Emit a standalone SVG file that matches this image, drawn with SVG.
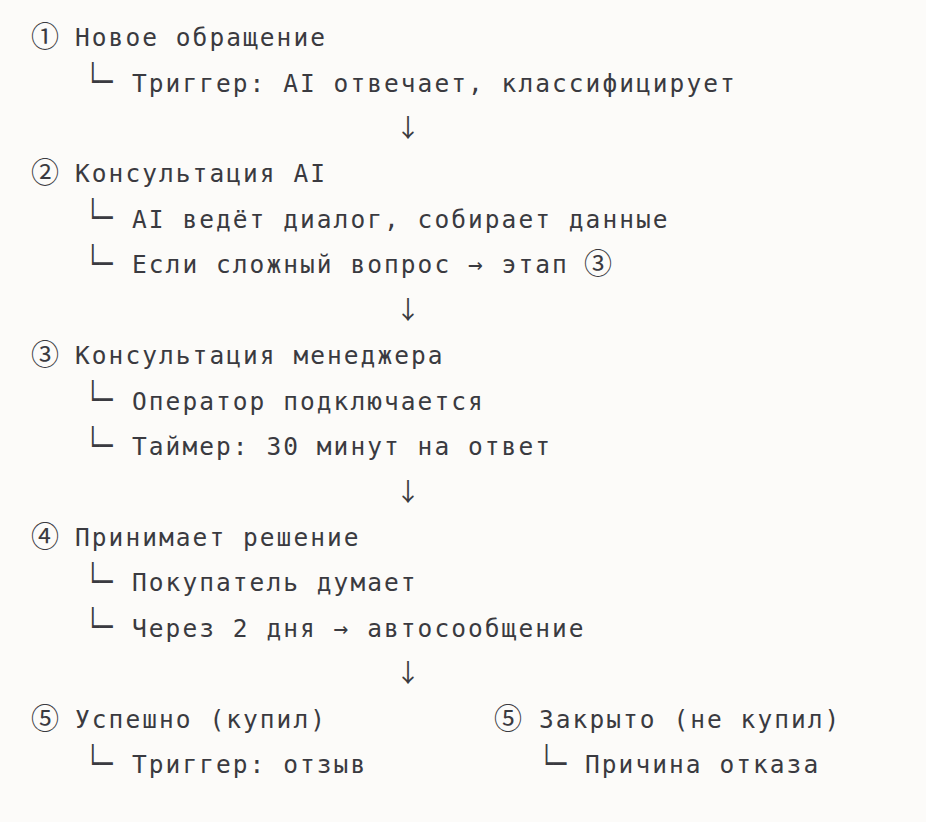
<svg xmlns="http://www.w3.org/2000/svg" width="926" height="822" viewBox="0 0 926 822">
<style>
.t{font-family:"DejaVu Sans Mono","Liberation Mono",monospace;font-size:24.5px;letter-spacing:2.05px;fill:#3a3a40}
.c{font-family:"Noto Sans CJK SC","DejaVu Sans",sans-serif;font-size:28px;fill:#3a3a40;text-anchor:middle}
.b{font-family:"DejaVu Sans Mono",monospace;font-size:24.5px;fill:#3a3a40}
.a{font-family:"Noto Sans CJK SC","DejaVu Sans Mono",monospace;font-size:25px;fill:#3a3a40;text-anchor:middle}
</style>
<defs>
<text id="elbow" class="b" x="0" y="8.5" transform="scale(0.9,1.35)">└─</text>
</defs>
<rect width="926" height="822" fill="#fcfbf9"/>
<g id="stage1">
<text class="c" x="45" y="47">①</text><text class="t" x="75" y="46">Новое обращение</text>
<use href="#elbow" x="86.2" y="81.7"/><text class="t" x="132" y="91.5">Триггер: AI отвечает, классифицирует</text>
</g>
<g id="stage2">
<text class="c" x="45" y="183.4">②</text><text class="t" x="75" y="182.4">Консультация AI</text>
<use href="#elbow" x="86.2" y="218"/><text class="t" x="132" y="227.8">AI ведёт диалог, собирает данные</text>
<use href="#elbow" x="86.2" y="263.5"/><text class="t" x="132" y="273.3">Если сложный вопрос → этап</text><text class="c" x="598" y="274.3">③</text>
</g>
<g id="stage3">
<text class="c" x="45" y="365.2">③</text><text class="t" x="75" y="364.2">Консультация менеджера</text>
<use href="#elbow" x="86.2" y="399.8"/><text class="t" x="132" y="409.6">Оператор подключается</text>
<use href="#elbow" x="86.2" y="445.2"/><text class="t" x="132" y="455">Таймер: 30 минут на ответ</text>
</g>
<g id="stage4">
<text class="c" x="45" y="547">④</text><text class="t" x="75" y="546">Принимает решение</text>
<use href="#elbow" x="86.2" y="581.6"/><text class="t" x="132" y="591.4">Покупатель думает</text>
<use href="#elbow" x="86.2" y="627"/><text class="t" x="132" y="636.8">Через 2 дня → автосообщение</text>
</g>
<g id="stage5-success">
<text class="c" x="45" y="728.7">⑤</text><text class="t" x="75" y="727.7">Успешно (купил)</text>
<use href="#elbow" x="86.2" y="763.4"/><text class="t" x="132" y="773.2">Триггер: отзыв</text>
</g>
<g id="stage5-closed">
<text class="c" x="508" y="728.7">⑤</text><text class="t" x="539" y="727.7">Закрыто (не купил)</text>
<use href="#elbow" x="539.9" y="763.4"/><text class="t" x="585" y="773.2">Причина отказа</text>
</g>
<g id="connectors">
<text class="a" x="408" y="137">↓</text>
<text class="a" x="408" y="318.7">↓</text>
<text class="a" x="408" y="500.5">↓</text>
<text class="a" x="408" y="682.3">↓</text>
</g>
</svg>
